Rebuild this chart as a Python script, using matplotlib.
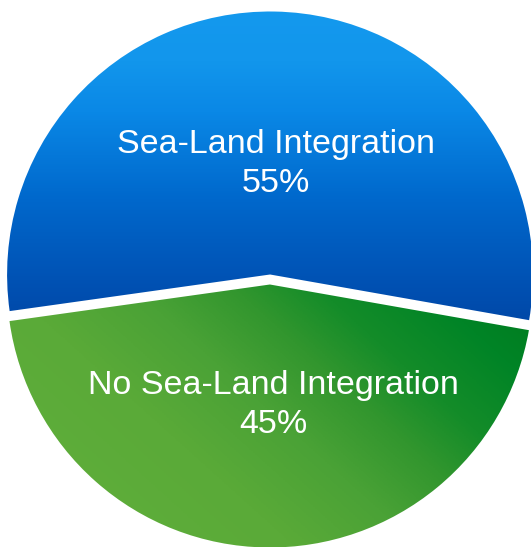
import matplotlib
matplotlib.use('Agg')
import matplotlib.pyplot as plt
import numpy as np
from matplotlib.colors import LinearSegmentedColormap

labels = ['Sea-Land Integration', 'No Sea-Land Integration']
shares = [55, 45]

W, H = 531, 547

fig = plt.figure(figsize=(W / 100, H / 100), dpi=100)
ax = fig.add_axes([0, 0, 1, 1])

# pie in pixel units; explode is an offset in data units here
center = (270, 267.5)
radius = 263
wedges, _ = ax.pie(shares, startangle=-10, counterclock=True,
                   center=center, radius=radius,
                   explode=[5, 5], frame=True,
                   wedgeprops=dict(linewidth=0))
ax.set_xlim(0, W)
ax.set_ylim(0, H)
ax.set_aspect('equal')
ax.axis('off')

# vertical blue gradient, light at the top
blue_cmap = LinearSegmentedColormap.from_list(
    'blue', [(0.0, '#0048a8'), (0.13, '#0052b4'), (0.39, '#0068cc'),
             (0.67, '#0a88e6'), (0.83, '#1296ec'), (1.0, '#1499ee')])
yy = np.linspace(0, 1, 300).reshape(-1, 1)
yy = np.repeat(yy, 2, axis=1)
blue_img = ax.imshow(yy, cmap=blue_cmap, origin='lower', aspect='auto',
                     extent=[0, W, 225, 540], interpolation='bilinear', zorder=2)
blue_img.set_clip_path(wedges[0])

# diagonal green gradient, light lower-left to dark upper-right
green_cmap = LinearSegmentedColormap.from_list(
    'green', [(0.0, '#62b03c'), (0.35, '#5aaa38'), (0.5, '#4aa236'), (0.62, '#32962e'),
              (0.72, '#148c29'), (0.85, '#008426'), (1.0, '#00781c')])
gx, gy = np.meshgrid(np.linspace(0, W, 300), np.linspace(0, 280, 300))
ang = np.deg2rad(48)
proj = gx * np.cos(ang) + gy * np.sin(ang)
proj = (proj - proj.min()) / (proj.max() - proj.min())
green_img = ax.imshow(proj, cmap=green_cmap, origin='lower', aspect='auto',
                      extent=[0, W, 0, 280], interpolation='bilinear', zorder=2)
green_img.set_clip_path(wedges[1])

for w in wedges:
    w.set_facecolor('none')

label_pos = [(273, 142), (276, 383)]
for (lx, ly), name, share in zip(label_pos[::-1], labels, shares):
    ax.text(lx, ly, f'{name}\n{share}%', color='white', ha='center', va='center',
            fontsize=24.5, family='Liberation Sans', linespacing=1.3, zorder=3)

fig.savefig('out.png', dpi=100)
